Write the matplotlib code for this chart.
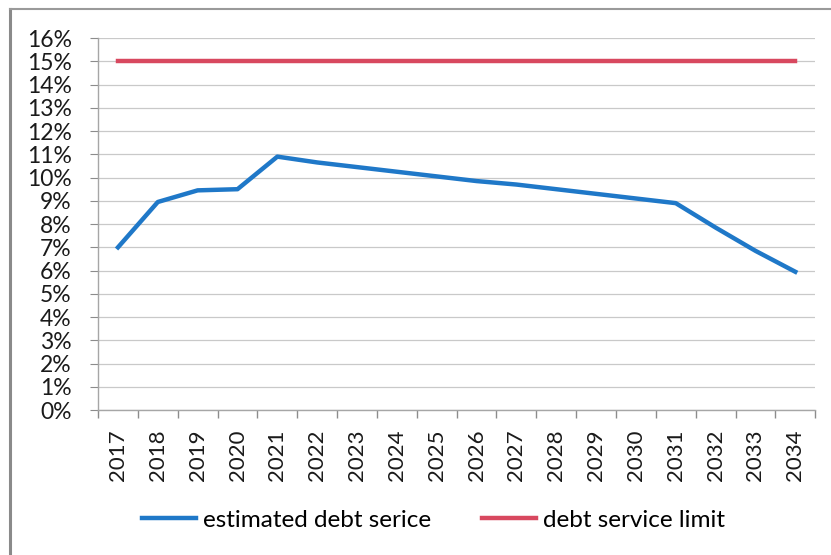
import matplotlib.pyplot as plt
from matplotlib.lines import Line2D
from matplotlib.ticker import FixedLocator, FuncFormatter

years = [str(y) for y in range(2017, 2035)]
estimated_debt_service = [7.0, 8.95, 9.45, 9.5, 10.9, 10.65, 10.45, 10.25, 10.05,
                          9.85, 9.7, 9.5, 9.3, 9.1, 8.9, 7.85, 6.85, 5.95]
debt_service_limit = [15.0] * len(years)

plt.rcParams['font.family'] = ['Lato', 'DejaVu Sans']

fig = plt.figure(figsize=(8.31, 5.55), dpi=100)
ax = fig.add_axes([0.118, 0.261, 0.863, 0.6705])

x = list(range(len(years)))
ax.plot(x, estimated_debt_service, color="#1f78c8", linewidth=3.2,
        solid_joinstyle="round", label="estimated debt serice", zorder=3)
ax.plot(x, debt_service_limit, color="#d8485f", linewidth=3.2,
        label="debt service limit", zorder=3)

ax.set_xlim(-0.5, len(years) - 0.5)
ax.set_ylim(0, 16)
ax.yaxis.set_major_locator(FixedLocator(range(0, 17)))
ax.yaxis.set_major_formatter(FuncFormatter(lambda v, _: f"{v:.0f}%"))
ax.grid(axis="y", color="#c9c9c9", linewidth=0.9)
ax.set_axisbelow(True)

ax.set_xticks(x)
ax.set_xticklabels(years, rotation=90)
ax.set_xticks([i - 0.5 for i in range(len(years) + 1)], minor=True)
ax.tick_params(axis="x", which="major", length=0, pad=14, labelsize=16, colors="#1a1a1a")
ax.tick_params(axis="x", which="minor", length=6, color="#8c8c8c", width=1)
ax.tick_params(axis="y", length=6, color="#8c8c8c", labelsize=16.5, pad=13,
               labelcolor="#1a1a1a")

for side in ("top", "right"):
    ax.spines[side].set_visible(False)
for side in ("left", "bottom"):
    ax.spines[side].set_color("#a6a6a6")
    ax.spines[side].set_linewidth(1)

# chart area border on the left and top edges
fig.add_artist(Line2D([0.012, 0.012], [0, 0.984], color="#8a8a8a", linewidth=2.2))
fig.add_artist(Line2D([0.012, 1.0], [0.984, 0.984], color="#9a9a9a", linewidth=1.5))

fig.legend(loc="center", bbox_to_anchor=(0.522, 0.063), ncol=2, frameon=False,
           fontsize=17.5, handlelength=2.2, handletextpad=0.3, columnspacing=2.1)

fig.savefig("out.png", dpi=100, facecolor="white")
plt.close(fig)
